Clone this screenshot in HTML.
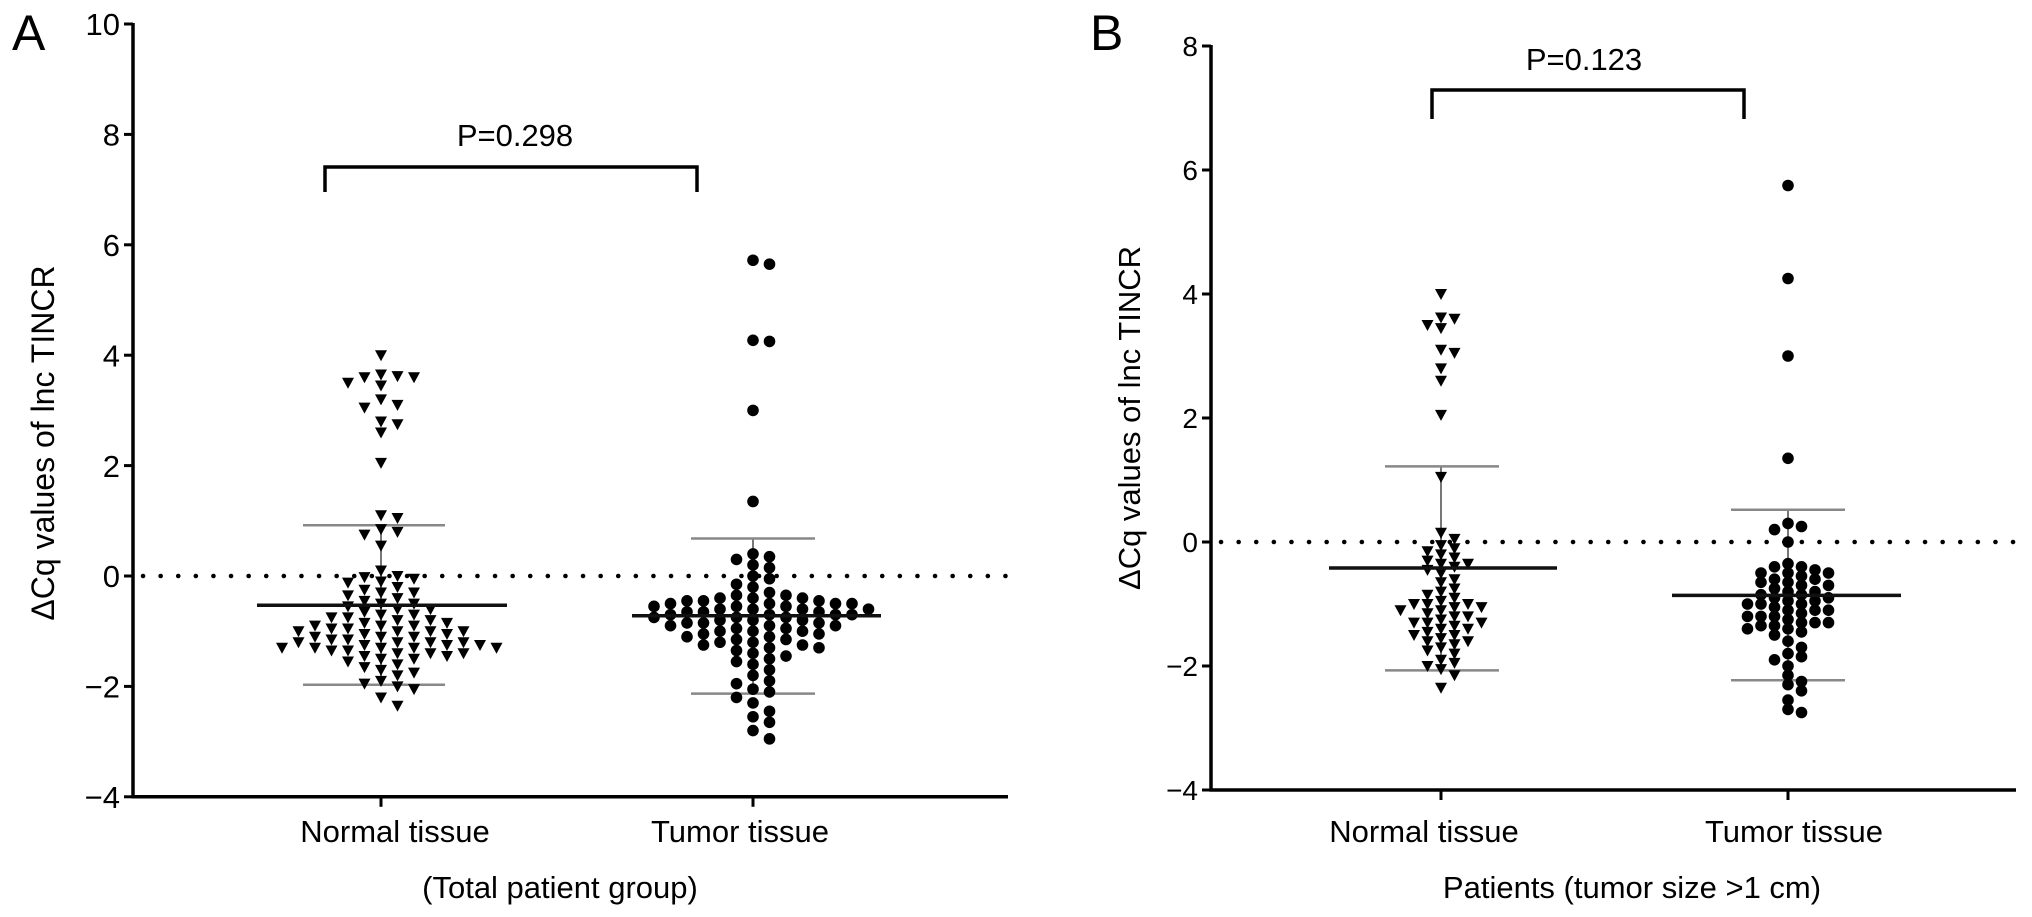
<!DOCTYPE html>
<html><head><meta charset="utf-8">
<style>
html,body{margin:0;padding:0;background:#fff;}
svg{display:block;font-family:"Liberation Sans",Arial,sans-serif;}
</style></head>
<body>
<svg id="chart" width="2032" height="917" viewBox="0 0 2032 917"></svg>
<script>
// ---- Panel A data ----
const categoriesA = ["Normal tissue", "Tumor tissue"];
const yTicksA = [10, 8, 6, 4, 2, 0, -2, -4];
const normalA = [4.0,3.62,3.6,3.65,3.6,3.5,3.45,3.2,3.1,3.05,2.8,2.75,2.6,2.05,1.1,1.05,0.85,0.8,0.75,0.55,0.1,0.0,-0.02,-0.05,-0.1,-0.12,-0.2,-0.25,-0.3,-0.3,-0.35,-0.4,-0.45,-0.5,-0.5,-0.55,-0.6,-0.6,-0.65,-0.7,-0.7,-0.75,-0.75,-0.8,-0.8,-0.85,-0.85,-0.9,-0.9,-0.95,-0.95,-1.0,-1.0,-1.0,-1.05,-1.05,-1.1,-1.1,-1.1,-1.15,-1.15,-1.2,-1.2,-1.2,-1.25,-1.25,-1.25,-1.3,-1.3,-1.3,-1.3,-1.35,-1.35,-1.4,-1.4,-1.4,-1.45,-1.45,-1.5,-1.5,-1.55,-1.6,-1.65,-1.7,-1.75,-1.8,-1.9,-1.95,-2.0,-2.05,-2.2,-2.35,-1.0,-1.3,-0.9,-1.2];
const tumorA = [5.72,5.65,4.27,4.25,3.0,1.35,0.4,0.35,0.3,0.2,0.15,0.0,-0.05,-0.15,-0.2,-0.3,-0.35,-0.4,-0.4,-0.45,-0.45,-0.5,-0.5,-0.5,-0.55,-0.55,-0.6,-0.6,-0.6,-0.65,-0.65,-0.7,-0.7,-0.7,-0.75,-0.75,-0.8,-0.8,-0.8,-0.85,-0.85,-0.9,-0.9,-0.95,-0.95,-1.0,-1.0,-1.05,-1.05,-1.1,-1.1,-1.15,-1.2,-1.2,-1.25,-1.3,-1.3,-1.35,-1.4,-1.45,-1.5,-1.55,-1.6,-1.7,-1.8,-1.9,-1.95,-2.05,-2.1,-2.2,-2.3,-2.45,-2.55,-2.65,-2.8,-2.95,-0.5,-0.6,-0.7,-0.4,-0.9,-1.0,-0.55,-0.65,-1.15,-1.25,-0.45,-0.35,-0.75,-0.85];
const statsA = {normal:[-0.53, 0.92, -1.97], tumor:[-0.72, 0.68, -2.13]};
// ---- Panel B data ----
const categoriesB = ["Normal tissue", "Tumor tissue"];
const yTicksB = [8, 6, 4, 2, 0, -2, -4];
const normalB = [4.0,3.62,3.6,3.5,3.45,3.1,3.05,2.8,2.6,2.05,1.05,0.15,0.05,-0.05,-0.1,-0.15,-0.2,-0.25,-0.3,-0.35,-0.35,-0.4,-0.45,-0.5,-0.6,-0.65,-0.75,-0.8,-0.85,-0.9,-0.95,-1.0,-1.0,-1.05,-1.05,-1.1,-1.1,-1.15,-1.2,-1.25,-1.3,-1.3,-1.3,-1.35,-1.4,-1.4,-1.45,-1.5,-1.5,-1.55,-1.6,-1.6,-1.65,-1.7,-1.75,-1.8,-1.9,-1.95,-2.0,-2.05,-2.15,-2.35,-1.2,-1.0];
const tumorB = [5.75,4.25,3.0,1.35,0.3,0.25,0.2,0.0,-0.35,-0.4,-0.4,-0.45,-0.5,-0.5,-0.55,-0.6,-0.6,-0.65,-0.7,-0.75,-0.8,-0.85,-0.85,-0.9,-0.9,-0.95,-0.95,-1.0,-1.0,-1.05,-1.1,-1.1,-1.15,-1.2,-1.2,-1.25,-1.3,-1.3,-1.35,-1.35,-1.4,-1.4,-1.45,-1.5,-1.6,-1.7,-1.8,-1.85,-1.9,-2.0,-2.15,-2.25,-2.3,-2.4,-2.55,-2.7,-2.75,-0.7,-1.0,-1.2,-0.5,-0.8,-1.3,-1.1,-0.65];
const statsB = {normal:[-0.42, 1.22, -2.07], tumor:[-0.86, 0.52, -2.23]};

const NS = "http://www.w3.org/2000/svg";
const svg = document.getElementById("chart");
function mk(tag, attrs, parent){
  const e = document.createElementNS(NS, tag);
  for (const k in attrs) e.setAttribute(k, attrs[k]);
  (parent||svg).appendChild(e);
  return e;
}

function swarm(values, cx, yScale, step, minD){
  const sorted = values.map(v=>v).sort((a,b)=>b-a);
  const placed = [];
  sorted.forEach(v=>{
    const y = yScale(v);
    for (let k=0;k<60;k++){
      const off = k===0?0:(k%2===1?Math.ceil(k/2):-Math.ceil(k/2))*step;
      const x = cx+off;
      let ok = true;
      for (const p of placed){
        const dx=p.x-x, dy=p.y-y;
        if (Math.abs(dx)<step*0.5 && Math.abs(dy)<minD){ok=false;break;}
      }
      if (ok){placed.push({x,y,v});break;}
    }
  });
  return placed;
}

function panel(cfg){
  const g = mk("g",{});
  
  
  const yScale = v => cfg.y0 + (cfg.ymax - v) * cfg.ppu;
  const yBottom = yScale(cfg.ymin);
  const L = mk("text",{x:cfg.letterX,y:50,"font-size":50,fill:"#000"},g);
  L.textContent = cfg.letter;
  
  
  const zl = mk("line",{x1:cfg.axX+10,x2:cfg.axEnd,y1:yScale(0),y2:yScale(0),stroke:"#000","stroke-width":4.5,"stroke-linecap":"round","stroke-dasharray":"0.1 17.5"},g);
  
  
  const ya = mk("line",{x1:cfg.axX,x2:cfg.axX,y1:yScale(cfg.ymax)-1,y2:yBottom+1.5,stroke:"#000","stroke-width":3.5},g);
  
  
  cfg.ticks.forEach(t=>{
    const ty = yScale(t);
    const tl = mk("line",{x1:cfg.axX-9,x2:cfg.axX,y1:ty,y2:ty,stroke:"#000","stroke-width":3},g);
    
    
    const tx = mk("text",{x:cfg.axX-13,y:ty+cfg.tickFont*0.36,"font-size":cfg.tickFont,"text-anchor":"end",fill:"#000"},g);
    tx.textContent = t<0 ? "\u2212"+Math.abs(t) : String(t);
    
    
  });
  const xa = mk("line",{x1:cfg.axX-1.5,x2:cfg.axEnd,y1:yBottom,y2:yBottom,stroke:"#000","stroke-width":3.5},g);
  
  
  const yt = mk("text",{x:0,y:0,"font-size":cfg.titleFont,"text-anchor":"middle",fill:"#000",transform:`translate(${cfg.yTitleX},${cfg.yTitleY}) rotate(-90)`},g);
  yt.textContent = "\u0394Cq values of lnc TINCR";
  
  
  cfg.groups.forEach((grp,i)=>{
    const cx = grp.cx;
    const xt = mk("line",{x1:cx,x2:cx,y1:yBottom,y2:yBottom+10,stroke:"#000","stroke-width":3},g);
    
    
    const xl = mk("text",{x:grp.labelX,y:842,"font-size":31,"text-anchor":"middle",fill:"#000"},g);
    xl.textContent = cfg.categories[i];
    
    
    const st = grp.stats;
    const sdv = mk("line",{x1:cx,x2:cx,y1:yScale(st[1]),y2:yScale(st[2]),stroke:"#777","stroke-width":2},g);
    
    
    [st[1],st[2]].forEach(v=>{
      const c = mk("line",{x1:grp.capL,x2:grp.capR,y1:yScale(v),y2:yScale(v),stroke:"#888","stroke-width":2.5},g);
      
      
    });
    const pts = swarm(grp.values, cx, yScale, cfg.step, cfg.minD);
    pts.forEach(p=>{
      let m;
      if (grp.marker==="tri"){
        const w=6, h=10;
        m = mk("polygon",{points:`${p.x-w},${p.y-h/2} ${p.x+w},${p.y-h/2} ${p.x},${p.y+h/2+1}`,fill:"#000"},g);
      } else {
        m = mk("circle",{cx:p.x,cy:p.y,r:5.8,fill:"#000"},g);
      }
      
      
    });
    const ml = mk("line",{x1:grp.meanL,x2:grp.meanR,y1:yScale(st[0]),y2:yScale(st[0]),stroke:"#111","stroke-width":3.5},g);
    
    
  });
  const xtT = mk("text",{x:cfg.xTitleX,y:898,"font-size":31,"text-anchor":"middle",fill:"#000"},g);
  xtT.textContent = cfg.xTitle;
  
  
  const b = cfg.bracket;
  const br = mk("polyline",{points:`${b.l},${b.bot} ${b.l},${b.top} ${b.r},${b.top} ${b.r},${b.bot}`,fill:"none",stroke:"#000","stroke-width":3.5},g);
  
  
  const pt = mk("text",{x:b.tx,y:b.ty,"font-size":31,"text-anchor":"middle",fill:"#000"},g);
  pt.textContent = b.label;
  
  
}

panel({name:"panel-a",letter:"A",letterX:12,axX:133,axEnd:1008,y0:24,ymax:10,ymin:-4,ppu:55.2,
  ticks:yTicksA,tickFont:31,titleFont:32,yTitleX:54,yTitleY:443,step:16.5,minD:10,
  categories:categoriesA,xTitle:"(Total patient group)",xTitleX:560,
  groups:[
    {cx:381,labelX:395,values:normalA,stats:[statsA.normal[0],statsA.normal[1],statsA.normal[2]],marker:"tri",capL:303,capR:445,meanL:257,meanR:507},
    {cx:753,labelX:740,values:tumorA,stats:[statsA.tumor[0],statsA.tumor[1],statsA.tumor[2]],marker:"dot",capL:691,capR:815,meanL:632,meanR:881}
  ],
  bracket:{l:325,r:697,top:167,bot:192,tx:515,ty:146,label:"P=0.298"}
});
panel({name:"panel-b",letter:"B",letterX:1090,axX:1211,axEnd:2016,y0:46,ymax:8,ymin:-4,ppu:62,
  ticks:yTicksB,tickFont:28,titleFont:31,yTitleX:1140,yTitleY:418,step:13.5,minD:9,
  categories:categoriesB,xTitle:"Patients (tumor size >1 cm)",xTitleX:1632,
  groups:[
    {cx:1441,labelX:1424,values:normalB,stats:[statsB.normal[0],statsB.normal[1],statsB.normal[2]],marker:"tri",capL:1385,capR:1499,meanL:1329,meanR:1557},
    {cx:1788,labelX:1794,values:tumorB,stats:[statsB.tumor[0],statsB.tumor[1],statsB.tumor[2]],marker:"dot",capL:1731,capR:1845,meanL:1672,meanR:1901}
  ],
  bracket:{l:1432,r:1744,top:90,bot:119,tx:1584,ty:70,label:"P=0.123"}
});
</script>
</body></html>
